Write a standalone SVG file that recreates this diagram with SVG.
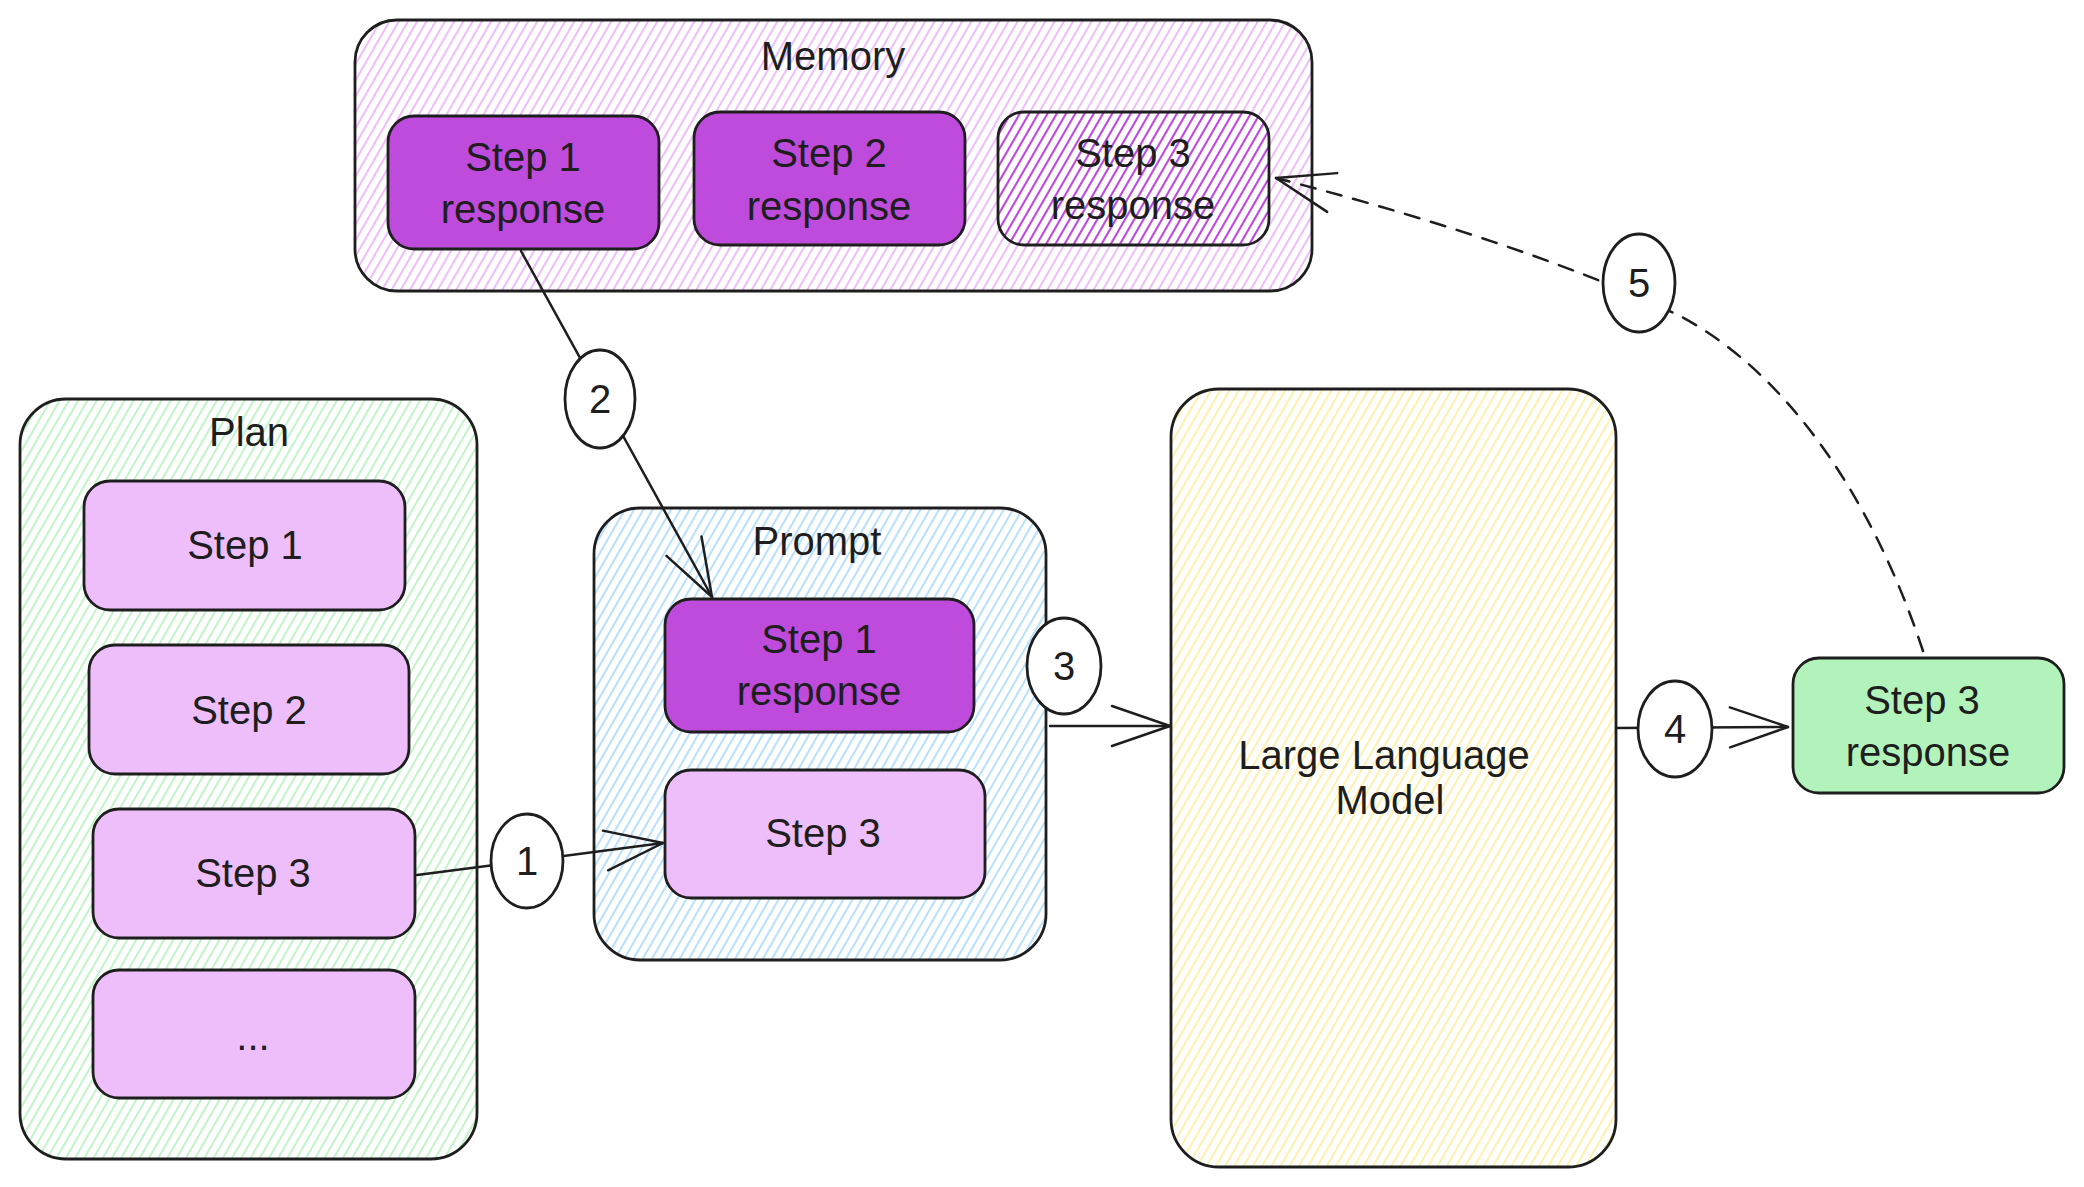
<svg xmlns="http://www.w3.org/2000/svg" width="2084" height="1187" viewBox="0 0 2084 1187">
<defs>
<style>
.box{stroke:#1e1e1e;stroke-width:2.8;}
.t{font-family:"Liberation Sans",Arial,sans-serif;font-size:40px;fill:#1e1e1e;text-anchor:middle;dominant-baseline:central;}
.n{font-family:"Liberation Sans",Arial,sans-serif;font-size:40px;fill:#1e1e1e;text-anchor:middle;dominant-baseline:central;}
.c{fill:none;stroke:#1e1e1e;stroke-width:2.5;stroke-linecap:round;}
.circ{fill:#ffffff;stroke:#1e1e1e;stroke-width:2.8;}
</style>
<pattern id="hVio" width="8" height="8" patternUnits="userSpaceOnUse" patternTransform="rotate(30)"><line x1="4" y1="0" x2="4" y2="8" stroke="#e599f7" stroke-width="1.3"/></pattern>
<pattern id="hVioD" width="8" height="8" patternUnits="userSpaceOnUse" patternTransform="rotate(30)"><line x1="4" y1="0" x2="4" y2="8" stroke="#be4bdb" stroke-width="2"/></pattern>
<pattern id="hGreen" width="8" height="8" patternUnits="userSpaceOnUse" patternTransform="rotate(30)"><line x1="4" y1="0" x2="4" y2="8" stroke="#b2f2bb" stroke-width="1.6"/></pattern>
<pattern id="hBlue" width="8" height="8" patternUnits="userSpaceOnUse" patternTransform="rotate(30)"><line x1="4" y1="0" x2="4" y2="8" stroke="#a5d8ff" stroke-width="1.6"/></pattern>
<pattern id="hYellow" width="8" height="8" patternUnits="userSpaceOnUse" patternTransform="rotate(30)"><line x1="4" y1="0" x2="4" y2="8" stroke="#ffec99" stroke-width="1.6"/></pattern>
<marker id="arr" markerUnits="userSpaceOnUse" markerWidth="70" markerHeight="50" viewBox="0 0 70 50" refX="62" refY="25" orient="auto" overflow="visible">
<path d="M4 5 L62 25 L4 45" fill="none" stroke="#1e1e1e" stroke-width="2.5" stroke-linecap="round" stroke-linejoin="round"/>
</marker>
</defs>
<rect width="2084" height="1187" fill="#ffffff"/>

<g id="memory">
<rect class="box" x="355" y="20" width="957" height="271" rx="42" fill="url(#hVio)"/>
<text class="t" x="833" y="56">Memory</text>
</g>
<g id="mem-step1">
<rect class="box" x="388" y="116" width="271" height="133" rx="26" fill="#be4bdb"/>
<text class="t" x="523" y="157">Step 1</text>
<text class="t" x="523" y="209">response</text>
</g>
<g id="mem-step2">
<rect class="box" x="694" y="112" width="271" height="133" rx="26" fill="#be4bdb"/>
<text class="t" x="829" y="153">Step 2</text>
<text class="t" x="829" y="206">response</text>
</g>
<g id="mem-step3">
<rect class="box" x="998" y="112" width="271" height="133" rx="26" fill="url(#hVioD)"/>
<text class="t" x="1133" y="153">Step 3</text>
<text class="t" x="1133" y="205">response</text>
</g>

<g id="plan">
<rect class="box" x="20" y="399" width="457" height="760" rx="46" fill="url(#hGreen)"/>
<text class="t" x="249" y="432">Plan</text>
</g>
<g id="plan-step1">
<rect class="box" x="84" y="481" width="321" height="129" rx="26" fill="#eebefa"/>
<text class="t" x="245" y="545">Step 1</text>
</g>
<g id="plan-step2">
<rect class="box" x="89" y="645" width="320" height="129" rx="26" fill="#eebefa"/>
<text class="t" x="249" y="710">Step 2</text>
</g>
<g id="plan-step3">
<rect class="box" x="93" y="809" width="322" height="129" rx="26" fill="#eebefa"/>
<text class="t" x="253" y="873">Step 3</text>
</g>
<g id="plan-more">
<rect class="box" x="93" y="970" width="322" height="128" rx="26" fill="#eebefa"/>
<text class="t" x="253" y="1036">...</text>
</g>

<g id="prompt">
<rect class="box" x="594" y="508" width="452" height="452" rx="46" fill="url(#hBlue)"/>
<text class="t" x="817" y="541">Prompt</text>
</g>
<g id="prompt-step1">
<rect class="box" x="665" y="599" width="309" height="133" rx="26" fill="#be4bdb"/>
<text class="t" x="819" y="639">Step 1</text>
<text class="t" x="819" y="691">response</text>
</g>
<g id="prompt-step3">
<rect class="box" x="665" y="770" width="320" height="128" rx="26" fill="#eebefa"/>
<text class="t" x="823" y="833">Step 3</text>
</g>

<g id="llm">
<rect class="box" x="1171" y="389" width="445" height="778" rx="48" fill="url(#hYellow)"/>
<text class="t" x="1384" y="755">Large Language</text>
<text class="t" x="1390" y="800">Model</text>
</g>

<g id="result">
<rect class="box" x="1793" y="658" width="271" height="135" rx="26" fill="#b2f2bb"/>
<text class="t" x="1922" y="700">Step 3</text>
<text class="t" x="1928" y="752">response</text>
</g>

<g id="connectors">
<path class="c" d="M417 875 L663 843" marker-end="url(#arr)"/>
<path class="c" d="M521 251 L712 597" marker-end="url(#arr)"/>
<path class="c" d="M1050 726 L1170 726" marker-end="url(#arr)"/>
<path class="c" d="M1616 728 L1788 727" marker-end="url(#arr)"/>
<path class="c" d="M1923 651 C1880 520 1800 380 1680 316 C1560 258 1400 210 1276 178" stroke-dasharray="15 12" marker-end="url(#arr)"/>
</g>

<g id="label-1">
<ellipse class="circ" cx="527" cy="861" rx="36" ry="47"/>
<text class="n" x="527" y="861">1</text>
</g>
<g id="label-2">
<ellipse class="circ" cx="600" cy="399" rx="35" ry="49"/>
<text class="n" x="600" y="399">2</text>
</g>
<g id="label-3">
<ellipse class="circ" cx="1064" cy="666" rx="37" ry="48"/>
<text class="n" x="1064" y="666">3</text>
</g>
<g id="label-4">
<ellipse class="circ" cx="1675" cy="729" rx="37" ry="48"/>
<text class="n" x="1675" y="729">4</text>
</g>
<g id="label-5">
<ellipse class="circ" cx="1639" cy="283" rx="36" ry="49"/>
<text class="n" x="1639" y="283">5</text>
</g>
</svg>
